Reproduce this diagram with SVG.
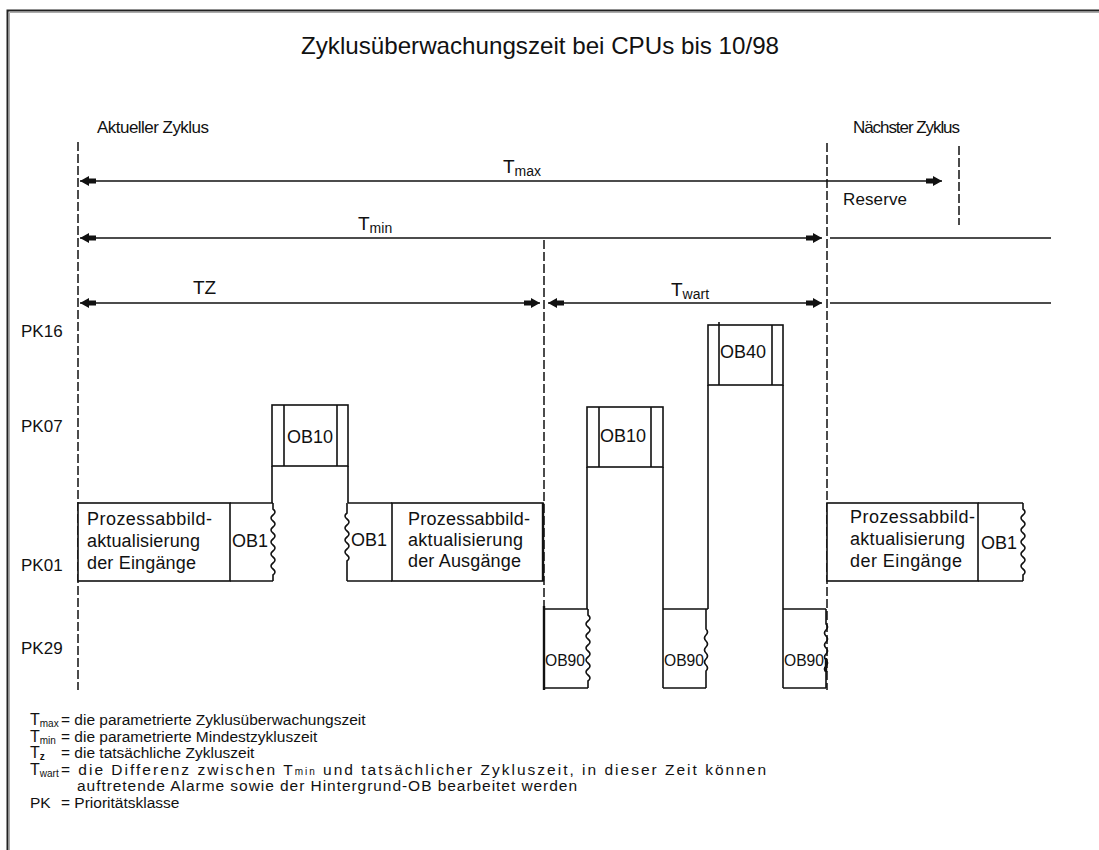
<svg xmlns="http://www.w3.org/2000/svg" width="1099" height="850" viewBox="0 0 1099 850">
<style>
text{font-family:"Liberation Sans",Arial,sans-serif;fill:#111}
.title{font-size:24px}
.lbl{font-size:17px}
.dim{font-size:19px}
.sub{font-size:14px}
.blk{font-size:18px}
.ob90{font-size:16px}
.leg{font-size:15.5px}
.legT{font-size:16px}
.legS{font-size:10px}
.ln{fill:none;stroke:#111;stroke-width:1.6}
.thick{fill:none;stroke:#111;stroke-width:2.4}
.dash{fill:none;stroke:#111;stroke-width:1.5;stroke-dasharray:9 3}
.arr{fill:none;stroke:#111;stroke-width:1.7;marker-start:url(#ah);marker-end:url(#ah)}
.plain{fill:none;stroke:#111;stroke-width:1.7}
.box{fill:#fff;stroke:#111;stroke-width:1.6}
</style>
<defs>
<marker id="ah" viewBox="-17 -6 18 12" refX="0" refY="0" markerWidth="18" markerHeight="12" markerUnits="userSpaceOnUse" orient="auto-start-reverse">
<path d="M0,0 L-9,-5 L-9,-2.5 L-16,-2.5 L-16,2.5 L-9,2.5 L-9,5 Z" fill="#111"/>
</marker>
</defs>
<rect width="1099" height="850" fill="#fff"/>
<g id="frame">
<path d="M7.5,850 V10.5 H1099" fill="none" stroke="#222" stroke-width="2"/>
<path d="M9.5,850 V12.5 H1099" fill="none" stroke="#aaa" stroke-width="1"/>
</g>
<g id="titles">
<text class="title" x="540" y="54" text-anchor="middle" textLength="478" lengthAdjust="spacingAndGlyphs">Zyklusüberwachungszeit bei CPUs bis 10/98</text>
<text class="lbl" x="97" y="133" textLength="112" lengthAdjust="spacing">Aktueller Zyklus</text>
<text class="lbl" x="853" y="133" textLength="107" lengthAdjust="spacing">Nächster Zyklus</text>
<text class="lbl" x="21" y="337">PK16</text>
<text class="lbl" x="21" y="432">PK07</text>
<text class="lbl" x="21" y="571">PK01</text>
<text class="lbl" x="21" y="654">PK29</text>
</g>
<g id="connectors">
<path class="dash" d="M78,142 V690"/>
<path class="dash" d="M544,240 V690"/>
<path class="dash" d="M827,143 V690"/>
<path class="dash" d="M959,146 V225"/>
<path class="arr" d="M80,181 H942"/>
<path class="arr" d="M80,238 H822"/>
<path class="plain" d="M830,238 H1051"/>
<path class="arr" d="M80,303 H540"/>
<path class="arr" d="M548,303 H822"/>
<path class="plain" d="M830,303 H1051"/>
<path class="ln" d="M272,466 V503 M348,466 V503 M587,467 V609 M663,467 V609 M708,385 V609 M783,385 V609"/>
<text class="dim" x="503" y="173">T<tspan class="sub" dy="3">max</tspan></text>
<text class="dim" x="358" y="230">T<tspan class="sub" dy="3">min</tspan></text>
<text class="dim" x="193" y="294">TZ</text>
<text class="dim" x="671" y="296">T<tspan class="sub" dy="3">wart</tspan></text>
<text class="lbl" x="843" y="205" textLength="64" lengthAdjust="spacing">Reserve</text>
</g>
<g id="pa-eingaenge">
<rect class="box" x="78" y="503" width="152" height="78"/>
<text class="blk" x="87" y="525" textLength="125" lengthAdjust="spacing">Prozessabbild-</text>
<text class="blk" x="87" y="547" textLength="113" lengthAdjust="spacing">aktualisierung</text>
<text class="blk" x="87" y="569" textLength="109" lengthAdjust="spacing">der Eingänge</text>
</g>
<g id="ob1-a">
<path class="ln" d="M230,503 H273 M230,581 H273 M273,503 v6 q4,3 0,6 q-4,3 0,6 q4,3 0,6 q-4,3 0,6 q4,3 0,6 q-4,3 0,6 q4,3 0,6 q-4,3 0,6 q4,3 0,6 q-4,3 0,6 q4,3 0,6 V581"/>
<text class="blk" x="232" y="547">OB1</text>
</g>
<g id="ob10-a">
<rect class="box" x="272" y="405" width="76" height="61"/>
<path class="ln" d="M284,405 V466 M337,405 V466"/>
<text class="blk" x="287" y="443">OB10</text>
</g>
<g id="ob1-b">
<path class="ln" d="M348,503 H392 M347,581 H392 M347,503 v10 q-4,3 0,6 q4,3 0,6 q-4,3 0,6 q4,3 0,6 q-4,3 0,6 q4,3 0,6 q-4,3 0,6 q4,3 0,6 V581"/>
<text class="blk" x="351" y="546">OB1</text>
</g>
<g id="pa-ausgaenge">
<rect class="box" x="392" y="503" width="151" height="78"/>
<path class="thick" d="M543,503 V581"/>
<text class="blk" x="408" y="525" textLength="122" lengthAdjust="spacing">Prozessabbild-</text>
<text class="blk" x="408" y="546" textLength="115" lengthAdjust="spacing">aktualisierung</text>
<text class="blk" x="408" y="567" textLength="113" lengthAdjust="spacing">der Ausgänge</text>
</g>
<g id="ob90-a">
<path class="ln" d="M544,609 H588 M544,688 H588 M588,609 v6 q4,3 0,6 q-4,3 0,6 q4,3 0,6 q-4,3 0,6 q4,3 0,6 q-4,3 0,6 q4,3 0,6 q-4,3 0,6 q4,3 0,6 q-4,3 0,6 q4,3 0,6 V688"/>
<path class="thick" d="M544,606 V690"/>
<text class="ob90" x="545" y="666" textLength="40" lengthAdjust="spacingAndGlyphs">OB90</text>
</g>
<g id="ob10-b">
<rect class="box" x="587" y="407" width="76" height="60"/>
<path class="ln" d="M599,407 V467 M651,407 V467"/>
<text class="blk" x="600" y="442">OB10</text>
</g>
<g id="ob90-b">
<path class="ln" d="M663,609 H708 M663,688 H706 M663,609 V688 M706,609 v20 q3,3 0,6 q-3,3 0,6 q3,3 0,6 q-3,3 0,6 q3,3 0,6 q-3,3 0,6 q3,3 0,6 V688"/>
<text class="ob90" x="664" y="666" textLength="40" lengthAdjust="spacingAndGlyphs">OB90</text>
</g>
<g id="ob40">
<rect class="box" x="708" y="325" width="75" height="60"/>
<path class="ln" d="M719,322 V385 M772,325 V385"/>
<text class="blk" x="720" y="358">OB40</text>
</g>
<g id="ob90-c">
<path class="ln" d="M783,609 H826 M783,688 H826 M783,609 V688 M826,609 v15 q3,3 0,6 q-3,3 0,6 q3,3 0,6 q-3,3 0,6 q3,3 0,6 q-3,3 0,6 q3,3 0,6 q-3,3 0,6 V688"/>
<path class="thick" d="M826,658 V672"/>
<text class="ob90" x="784" y="666" textLength="40" lengthAdjust="spacingAndGlyphs">OB90</text>
</g>
<g id="pa-eingaenge-2">
<rect class="box" x="827" y="503" width="151" height="78"/>
<text class="blk" x="850" y="523" textLength="125" lengthAdjust="spacing">Prozessabbild-</text>
<text class="blk" x="850" y="545" textLength="115" lengthAdjust="spacing">aktualisierung</text>
<text class="blk" x="850" y="567" textLength="112" lengthAdjust="spacing">der Eingänge</text>
</g>
<g id="ob1-c">
<path class="ln" d="M978,503 H1023 M978,581 H1023 M1023,503 v6 q4,3 0,6 q-4,3 0,6 q4,3 0,6 q-4,3 0,6 q4,3 0,6 q-4,3 0,6 q4,3 0,6 q-4,3 0,6 q4,3 0,6 q-4,3 0,6 q4,3 0,6 V581"/>
<text class="blk" x="981" y="549">OB1</text>
</g>
<g id="legend">
<text class="legT" x="30" y="725">T<tspan class="legS" dy="2">max</tspan></text>
<text class="leg" x="61" y="725">= die parametrierte Zyklusüberwachungszeit</text>
<text class="legT" x="30" y="741.5">T<tspan class="legS" dy="2">min</tspan></text>
<text class="leg" x="61" y="741.5">= die parametrierte Mindestzykluszeit</text>
<text class="legT" x="30" y="758">T<tspan class="legS" dy="2" font-weight="bold">z</tspan></text>
<text class="leg" x="61" y="758">= die tatsächliche Zykluszeit</text>
<text class="legT" x="30" y="774.5">T<tspan class="legS" dy="2">wart</tspan></text>
<text class="leg" x="61" y="774.5" font-size="16" textLength="705" lengthAdjust="spacing">= die Differenz zwischen T<tspan class="legS">min</tspan> und tatsächlicher Zykluszeit, in dieser Zeit können</text>
<text class="leg" x="77" y="791" textLength="500" lengthAdjust="spacing">auftretende Alarme sowie der Hintergrund-OB bearbeitet werden</text>
<text class="leg" x="30" y="807.5">PK</text>
<text class="leg" x="61" y="807.5">= Prioritätsklasse</text>
</g>
</svg>
